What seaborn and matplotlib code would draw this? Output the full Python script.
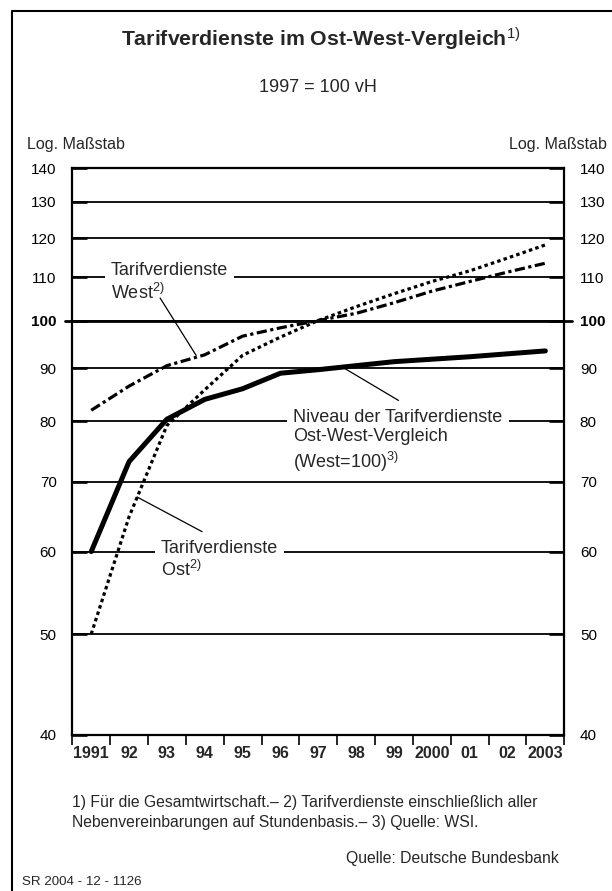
import pandas as pd
import seaborn as sns
import matplotlib.pyplot as plt
from matplotlib.lines import Line2D
from matplotlib.ticker import FixedLocator, FixedFormatter, NullLocator

# Werte (1997 = 100)
jahre = list(range(1991, 2004))
jahr_labels = ["1991", "92", "93", "94", "95", "96", "97", "98", "99", "2000", "01", "02", "2003"]
niveau = [60.0, 73.2, 80.4, 84.0, 86.0, 89.0, 89.7, 90.5, 91.3, 91.8, 92.3, 92.9, 93.5]
west = [82.0, 86.5, 90.5, 92.7, 96.6, 98.4, 100.0, 101.6, 104.0, 106.7, 109.0, 111.3, 113.5]
ost = [50.0, 64.8, 79.3, 85.8, 92.6, 96.4, 100.0, 103.1, 106.1, 109.0, 111.6, 114.8, 118.2]
y_ticks = [40, 50, 60, 70, 80, 90, 100, 110, 120, 130, 140]

df = pd.DataFrame({
    "Jahr": jahre * 3,
    "Wert": niveau + west + ost,
    "Reihe": ["Niveau"] * 13 + ["West"] * 13 + ["Ost"] * 13,
})

sns.set_theme(style="white")
plt.rcParams["font.family"] = ["Liberation Sans", "DejaVu Sans"]
plt.rcParams["mathtext.fontset"] = "custom"
plt.rcParams["mathtext.rm"] = "Liberation Sans"
plt.rcParams["mathtext.it"] = "Liberation Sans:italic"
plt.rcParams["mathtext.bf"] = "Liberation Sans:bold"

W, H = 612, 891
fig = plt.figure(figsize=(W / 100, H / 100), dpi=100)
fig.patch.set_facecolor("white")
ax = fig.add_axes([72.3 / W, 1 - 735 / H, (564.3 - 72.3) / W, (735 - 168.3) / H])

sns.lineplot(data=df, x="Jahr", y="Wert", style="Reihe", size="Reihe",
             dashes={"Niveau": "", "West": (3.2, 1.1, 1.0, 1.1), "Ost": (1.1, 1.0)},
             sizes={"Niveau": 3.6, "West": 2.3, "Ost": 2.3},
             color="black", legend=False, estimator=None, ax=ax)

ax.set_yscale("log")
ax.set_ylim(40, 140)
ax.yaxis.set_major_locator(FixedLocator(y_ticks))
ax.yaxis.set_major_formatter(FixedFormatter([str(v) for v in y_ticks]))
ax.yaxis.set_minor_locator(NullLocator())
ax.set_xlim(1990.5, 2003.5)
ax.set_xticks(jahre, labels=jahr_labels, fontweight="bold", fontsize=11.5)
ax.set_xticks([j - 0.5 for j in jahre] + [2003.5], minor=True)
ax.set_xlabel("")
ax.set_ylabel("")

ax.tick_params(axis="x", which="major", length=0, pad=8)
ax.tick_params(axis="x", which="minor", length=7, width=1.2, direction="out",
               color="black", bottom=True)
ax.tick_params(axis="y", which="major", direction="in", length=11, width=1.9,
               color="black", left=True, right=True, labelleft=True,
               labelright=True, pad=11.2, labelsize=11, labelcolor="black")

ax.grid(axis="y", which="major", color="black", lw=1.3)
ax.grid(axis="x", visible=False)
ax.set_axisbelow(True)
ax.axhline(100, xmin=-0.015, xmax=1.015, color="black", lw=2.0,
           clip_on=False, zorder=1)
for s in ax.spines.values():
    s.set_color("black")
    s.set_linewidth(1.6)

fig.canvas.draw()
for t in ax.yaxis.get_major_ticks():
    if abs(t.get_loc() - 100) < 0.01:
        t.label1.set_fontweight("bold")
        t.label2.set_fontweight("bold")

# Beschriftungen im Diagramm
box = dict(fc="white", ec="none", boxstyle="square,pad=0.35")
ax.text(1991.52, 108.7, "Tarifverdienste\nWest$^{\\mathrm{2)}}$", ha="left",
        va="center", fontsize=13, linespacing=1.22, bbox=box, zorder=1.5)
ax.text(1996.33, 76.6, "Niveau der Tarifverdienste\nOst-West-Vergleich\n(West=100)$^{\\mathrm{3)}}$",
        ha="left", va="center", fontsize=13, linespacing=1.22, bbox=box, zorder=1.5)
ax.text(1992.84, 58.9, "Tarifverdienste\nOst$^{\\mathrm{2)}}$", ha="left",
        va="center", fontsize=13, linespacing=1.22, bbox=box, zorder=1.5)

leader = dict(arrowstyle="-", color="black", lw=0.9, shrinkA=0, shrinkB=0)
ax.annotate("", xy=(1993.77, 92.6), xytext=(1992.82, 105.1), arrowprops=leader)
ax.annotate("", xy=(1997.64, 90.2), xytext=(1999.12, 83.8), arrowprops=leader)
ax.annotate("", xy=(1992.21, 67.7), xytext=(1993.93, 62.7), arrowprops=leader)

# Texte ausserhalb
fig.text(321 / W, 1 - 39 / H, "Tarifverdienste im Ost-West-Vergleich$^{\\mathrm{1)}}$",
         ha="center", va="center", fontsize=15.3, fontweight="bold")
fig.text(318 / W, 1 - 88 / H, "1997 = 100 vH", ha="center", va="center", fontsize=13)
fig.text(27 / W, 1 - 145 / H, "Log. Maßstab", ha="left", va="center", fontsize=11.5)
fig.text(607 / W, 1 - 145 / H, "Log. Maßstab", ha="right", va="center", fontsize=11.5)
fig.text(72 / W, 1 - 803 / H,
         "1) Für die Gesamtwirtschaft.– 2) Tarifverdienste einschließlich aller",
         ha="left", va="center", fontsize=11.3)
fig.text(72 / W, 1 - 822 / H,
         "Nebenvereinbarungen auf Stundenbasis.– 3) Quelle: WSI.",
         ha="left", va="center", fontsize=11.3)
fig.text(559 / W, 1 - 858 / H, "Quelle: Deutsche Bundesbank", ha="right",
         va="center", fontsize=11.3)
fig.text(22 / W, 1 - 882 / H, "SR 2004 - 12 - 1126", ha="left", va="center",
         fontsize=9.6)

fig.add_artist(Line2D([12 / W, 12 / W, 1], [0, 1 - 11 / H, 1 - 11 / H],
                      transform=fig.transFigure, color="black", lw=1.5))

fig.savefig("out.png", dpi=100)
